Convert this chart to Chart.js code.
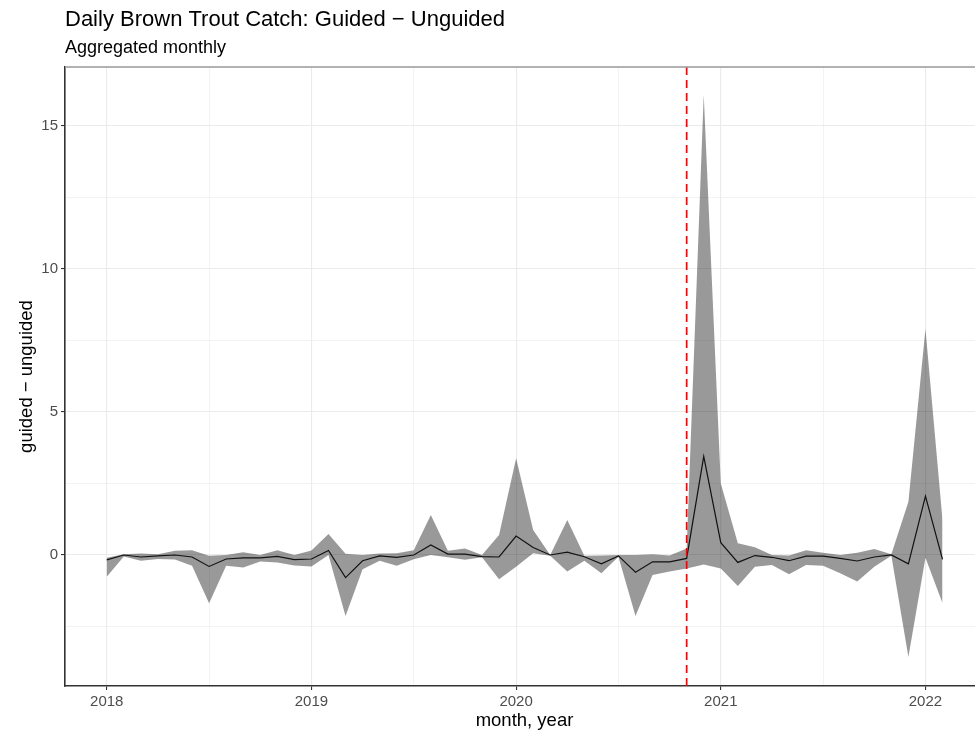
<!DOCTYPE html>
<html>
<head>
<meta charset="utf-8">
<script src="https://cdn.jsdelivr.net/npm/chart.js@4"></script>
<style>
  html, body { margin: 0; padding: 0; background: #fff; overflow: hidden; }
  #wrap { width: 990px; height: 731px; }
</style>
</head>
<body>
<div id="wrap"><canvas id="chart" width="990" height="731"></canvas></div>
<script>
// monthly data, Jan 2018 - Feb 2022
const months = [
  '2018-01','2018-02','2018-03','2018-04','2018-05','2018-06','2018-07','2018-08','2018-09','2018-10','2018-11','2018-12',
  '2019-01','2019-02','2019-03','2019-04','2019-05','2019-06','2019-07','2019-08','2019-09','2019-10','2019-11','2019-12',
  '2020-01','2020-02','2020-03','2020-04','2020-05','2020-06','2020-07','2020-08','2020-09','2020-10','2020-11','2020-12',
  '2021-01','2021-02','2021-03','2021-04','2021-05','2021-06','2021-07','2021-08','2021-09','2021-10','2021-11','2021-12',
  '2022-01','2022-02'
];
const diffMid = [
  -0.17, 0.00, -0.07, -0.03, 0.00, -0.07, -0.40, -0.14, -0.10, -0.10, -0.05, -0.16,
  -0.14, 0.16, -0.79, -0.20, -0.03, -0.08, 0.00, 0.35, 0.03, 0.03, -0.06, -0.07,
  0.66, 0.26, 0.00, 0.10, -0.06, -0.31, -0.03, -0.60, -0.24, -0.24, -0.12, 3.45,
  0.43, -0.26, -0.02, -0.08, -0.20, -0.04, -0.04, -0.12, -0.21, -0.07, 0.00, -0.31,
  2.06, -0.15
];
const diffLow = [
  -0.76, -0.05, -0.20, -0.14, -0.16, -0.38, -1.69, -0.38, -0.44, -0.23, -0.26, -0.37,
  -0.40, 0.00, -2.13, -0.50, -0.20, -0.38, -0.15, 0.00, -0.08, -0.17, -0.08, -0.85,
  -0.41, 0.06, -0.03, -0.58, -0.20, -0.64, -0.06, -2.13, -0.70, -0.58, -0.47, -0.33,
  -0.47, -1.08, -0.41, -0.35, -0.67, -0.35, -0.38, -0.64, -0.93, -0.41, -0.03, -3.57,
  -0.10, -1.69
];
const diffHigh = [
  -0.10, 0.03, 0.05, 0.03, 0.15, 0.17, -0.03, 0.00, 0.10, 0.00, 0.17, 0.00,
  0.16, 0.73, 0.04, 0.00, 0.05, 0.06, 0.17, 1.40, 0.15, 0.23, 0.00, 0.70,
  3.38, 0.87, 0.00, 1.22, -0.03, -0.02, 0.00, 0.00, 0.03, -0.02, 0.23, 16.10,
  2.50, 0.41, 0.27, 0.00, -0.02, 0.17, 0.08, 0.00, 0.08, 0.21, 0.03, 1.86,
  7.90, 1.22
];
const xTickValues = [2018, 2018.5, 2019, 2019.5, 2020, 2020.5, 2021, 2021.5, 2022];
const yTickValues = [-2.5, 0, 2.5, 5, 7.5, 10, 12.5, 15];
const cutoffMonth = '2020-11';

const titleText = 'Daily Brown Trout Catch: Guided \u2212 Unguided';
const subtitleText = 'Aggregated monthly';
const xTitle = 'month, year';
const yTitle = 'guided \u2212 unguided';

const FONT = '"Liberation Sans", Arial, sans-serif';
Chart.defaults.font.family = FONT;

function toYear(m) {
  return Number(m.slice(0, 4)) + (Number(m.slice(5, 7)) - 1) / 12;
}
function pts(values) {
  return months.map((m, i) => ({ x: toYear(m), y: values[i] }));
}

// titles, axis titles, cutoff line, top border
const decorations = {
  id: 'decorations',
  afterDatasetsDraw(chart) {
    const { ctx, chartArea, scales } = chart;
    const xc = scales.x.getPixelForValue(toYear(cutoffMonth));
    ctx.save();
    ctx.strokeStyle = '#ff0000';
    ctx.lineWidth = 1.7;
    ctx.setLineDash([8, 5]);
    ctx.beginPath();
    ctx.moveTo(xc, chartArea.top);
    ctx.lineTo(xc, chartArea.bottom);
    ctx.stroke();
    ctx.restore();
  },
  afterDraw(chart) {
    const { ctx, chartArea } = chart;
    ctx.save();
    ctx.strokeStyle = '#999999';
    ctx.lineWidth = 1.5;
    ctx.beginPath();
    ctx.moveTo(chartArea.left, chartArea.top);
    ctx.lineTo(chartArea.right, chartArea.top);
    ctx.stroke();

    ctx.fillStyle = '#000';
    ctx.textBaseline = 'alphabetic';
    ctx.textAlign = 'left';
    ctx.font = '22px ' + FONT;
    ctx.fillText(titleText, chartArea.left, 26);
    ctx.font = '18px ' + FONT;
    ctx.fillText(subtitleText, chartArea.left, 53);

    ctx.textAlign = 'center';
    ctx.font = '18.5px ' + FONT;
    ctx.fillText(xTitle, (chartArea.left + chartArea.right) / 2, 726);

    ctx.translate(32, (chartArea.top + chartArea.bottom) / 2);
    ctx.rotate(-Math.PI / 2);
    ctx.fillText(yTitle, 0, 0);
    ctx.restore();
  }
};

new Chart(document.getElementById('chart'), {
  type: 'line',
  data: {
    datasets: [
      {
        data: pts(diffMid),
        borderColor: '#111',
        borderWidth: 1.2,
        pointRadius: 0,
        fill: false
      },
      {
        data: pts(diffHigh),
        borderWidth: 0,
        pointRadius: 0,
        backgroundColor: 'rgba(0,0,0,0.4)',
        fill: '+1'
      },
      {
        data: pts(diffLow),
        borderWidth: 0,
        pointRadius: 0,
        fill: false
      }
    ]
  },
  options: {
    responsive: false,
    animation: false,
    layout: { padding: { top: 67, right: 6, left: 0, bottom: 0 } },
    plugins: { legend: { display: false }, tooltip: { enabled: false } },
    scales: {
      x: {
        type: 'linear',
        min: 2017.796,
        max: 2022.286,
        afterBuildTicks: scale => { scale.ticks = xTickValues.map(v => ({ value: v })); },
        afterFit: scale => { scale.height = 45; },
        grid: {
          color: '#ebebeb',
          lineWidth: c => Number.isInteger(c.tick.value) ? 1.1 : 0.6,
          tickColor: c => Number.isInteger(c.tick.value) ? '#333' : 'rgba(0,0,0,0)',
          tickLength: 4
        },
        border: { color: '#333', width: 1.6 },
        ticks: {
          autoSkip: false,
          maxRotation: 0,
          padding: 3,
          color: '#4d4d4d',
          font: { size: 15 },
          callback: v => Number.isInteger(v) ? String(v) : ''
        }
      },
      y: {
        min: -4.58,
        max: 17.06,
        afterBuildTicks: scale => { scale.ticks = yTickValues.map(v => ({ value: v })); },
        afterFit: scale => { scale.width = 65; },
        grid: {
          color: '#ebebeb',
          lineWidth: c => c.tick.value % 5 === 0 ? 1.1 : 0.6,
          tickColor: c => c.tick.value % 5 === 0 ? '#333' : 'rgba(0,0,0,0)',
          tickLength: 4
        },
        border: { color: '#333', width: 1.6 },
        ticks: {
          padding: 3,
          color: '#4d4d4d',
          font: { size: 15 },
          callback: v => v % 5 === 0 ? String(v) : ''
        }
      }
    }
  },
  plugins: [decorations]
});
</script>
</body>
</html>
